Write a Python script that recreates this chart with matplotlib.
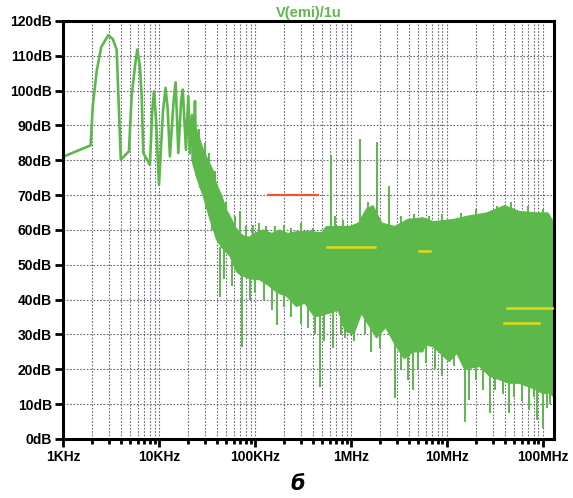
import numpy as np
import matplotlib.pyplot as plt
from matplotlib.ticker import FixedLocator, NullFormatter

# low-frequency harmonics of the trace (Hz, dB)
lf_freq = [1000, 1940, 2040, 2240, 2500, 2960, 3300, 3620, 4000, 4860, 5190, 5620, 5940, 6330, 6600, 6860,
           8040, 8500, 8870, 9300, 10000, 11000, 11700, 12300, 13000, 14200, 14900, 15900, 17000, 17700,
           19100, 20200, 21000, 22000, 23000, 23700, 24500]
lf_db = [81.0, 84.3, 95.5, 105.5, 112.5, 115.9, 114.8, 111.8, 80.2, 82.6, 98.4, 107.0, 111.8, 107.0, 98.4, 82.1,
         78.7, 94.0, 99.8, 92.0, 73.0, 94.0, 100.8, 95.0, 81.1, 97.0, 102.4, 82.1, 97.0, 100.3,
         83.0, 98.4, 82.0, 93.0, 80.0, 97.0, 77.0]

# noise band, upper envelope
top_freq = [22e3, 24e3, 26.7e3, 29e3, 31.3e3, 34e3, 36.7e3, 40e3, 45e3, 50e3, 55e3, 62e3, 70e3, 80e3, 88e3,
            100e3, 121e3, 150e3, 182e3, 220e3, 270e3, 360e3, 495e3, 555e3, 735e3, 977e3, 1.2e6, 1.45e6,
            1.7e6, 2.1e6, 2.86e6, 3.9e6, 5.6e6, 7.2e6, 11.6e6, 16e6, 26e6, 40e6, 57e6, 86e6, 113e6,
            125e6, 131e6]
top_db = [92, 90, 86, 83, 81, 79, 77, 73, 70, 66, 64, 61, 59, 58, 58,
          59, 60, 59, 60, 59, 59.5, 59.6, 59.2, 61, 61, 61, 62, 66,
          67, 62, 61, 63, 63.5, 62.4, 63, 63.9, 64.9, 67, 65.3, 64.9, 64.9,
          63, 55]

# noise band, lower envelope
bot_freq = [22e3, 24.7e3, 29e3, 34e3, 39.8e3, 45e3, 55e3, 64e3, 72e3, 88e3, 112e3, 140e3, 170e3, 213e3,
            270e3, 330e3, 420e3, 580e3, 735e3, 870e3, 1.07e6, 1.29e6, 1.85e6, 2.3e6, 2.9e6, 3.6e6, 4.4e6,
            5.6e6, 6e6, 7.2e6, 10.6e6, 12.7e6, 15.3e6, 21.9e6, 28e6, 35.4e6, 44.6e6, 56e6, 71e6, 87e6,
            100e6, 117e6, 131e6]
bot_db = [80, 75, 69.6, 63, 57.2, 55, 52.4, 48, 47, 46, 45.7, 44, 42, 41,
          38, 39, 35, 36, 37, 31, 30, 36, 29, 32, 27, 23, 25,
          25, 27, 26.5, 22.2, 24.6, 20, 20.8, 18, 17, 16, 16, 15, 14,
          13, 13.2, 12]

# single spikes sticking out of the band (Hz, from dB, to dB)
spike_freq = [26e3, 30e3, 33e3, 38e3, 43e3, 50e3, 62e3, 70e3, 80e3, 95e3, 110e3, 130e3, 160e3, 200e3, 240e3,
              300e3, 400e3, 617e3, 680e3, 830e3, 1.24e6, 1.5e6, 1.88e6, 2.5e6, 3.3e6, 4.5e6, 6.5e6, 9e6,
              14e6, 20e6, 33e6, 47e6, 70e6, 100e6,
              27e3, 31e3, 36e3, 43e3, 48e3, 58e3, 72.6e3, 88e3, 100e3, 125e3, 150e3, 168e3, 200e3, 240e3,
              300e3, 360e3, 420e3, 475e3, 520e3, 650e3, 780e3, 870e3, 1.07e6, 1.4e6, 1.6e6, 2.0e6, 2.9e6,
              3.3e6, 3.9e6, 4.4e6, 5.0e6, 6e6, 7.5e6, 9e6, 12e6, 15.3e6, 17e6, 20e6, 24e6, 28e6, 32e6,
              38e6, 44.6e6, 50e6, 60e6, 71e6, 80e6, 87e6, 100e6, 110e6, 120e6]
spike_lo = [80, 75, 72, 68, 60, 58, 55, 55, 55, 55, 55, 55, 55, 55, 55,
            55, 55, 58, 58, 58, 60, 60, 60, 58, 58, 58, 58, 58,
            60, 60, 60, 62, 60, 60,
            72, 66, 60, 40.9, 46, 44, 26.5, 40, 42, 40, 37, 32.8, 38, 35,
            33, 32, 30, 15, 28, 26, 30, 29, 28, 30, 25, 26, 11.8,
            20, 17, 14, 20, 21.8, 20, 18, 21, 5, 11.2, 17, 14, 7.4, 14,
            13, 7.4, 12, 11, 8.3, 12, 5.5, 3.2, 9, 10]
spike_hi = [89, 85, 82, 77, 71, 68, 64, 65.5, 61, 61.5, 62, 61, 61, 61.5, 60.5,
            62, 60.5, 81.6, 64, 63, 86.1, 68, 85.2, 72.5, 64, 64.5, 64, 64.5,
            65, 66, 67, 68, 67, 66,
            78, 72, 66, 55, 56, 52, 50, 50, 50, 48, 48, 45, 45, 42,
            42, 40, 38, 38, 38, 38, 38, 35, 35, 38, 35, 32, 30,
            28, 26, 27, 27, 28, 27, 25, 25, 24, 22, 22, 22, 20, 20,
            18, 18, 18, 17, 16, 16, 15, 15, 15, 14]

# limit lines (Hz start, Hz end, dB)
red_limit = (138e3, 456e3, 70)
yellow_limits = [(558e3, 1.78e6, 55), (5.1e6, 6.7e6, 54), (41.9e6, 131e6, 37.7), (39.3e6, 90.8e6, 33.2)]

major_freq = [1e3, 1e4, 1e5, 1e6, 1e7, 1e8]
major_labels = ["1KHz", "10KHz", "100KHz", "1MHz", "10MHz", "100MHz"]
db_ticks = list(range(0, 121, 10))
db_labels = [f"{v}dB" for v in db_ticks]

green = "#5cb84a"

plt.rcParams['font.family'] = ['Liberation Sans', 'DejaVu Sans']

fig = plt.figure(figsize=(5.73, 4.98), dpi=100)
ax = fig.add_axes([0.110, 0.1185, 0.857, 0.8394])
ax.set_xscale("log")
ax.set_xlim(1e3, 1.31e8)
ax.set_ylim(0, 120)

# trace
ax.plot(lf_freq, lf_db, color=green, lw=1.9, zorder=2)
poly_x = np.concatenate([top_freq, bot_freq[::-1]])
poly_y = np.concatenate([top_db, bot_db[::-1]])
ax.fill(poly_x, poly_y, color=green, lw=0.8, zorder=2)
ax.vlines(spike_freq, spike_lo, spike_hi, colors=green, lw=1.4, zorder=2)

# limits
ax.plot(red_limit[:2], [red_limit[2]] * 2, color="#ee5533", lw=1.6, zorder=3)
for f0, f1, lvl in yellow_limits:
    ax.plot([f0, f1], [lvl, lvl], color="#dddd1a", lw=1.8, zorder=3)

# ticks
minor = [m * 10 ** d for d in range(3, 9) for m in range(2, 10) if m * 10 ** d < 1.31e8]
ax.xaxis.set_major_locator(FixedLocator(major_freq))
ax.xaxis.set_minor_locator(FixedLocator(minor))
ax.xaxis.set_minor_formatter(NullFormatter())
ax.set_xticklabels(major_labels)
ax.set_yticks(db_ticks)
ax.set_yticklabels(db_labels)
ax.tick_params(axis="both", which="major", direction="out", length=6, width=2, labelsize=10, pad=2)
ax.tick_params(axis="x", which="minor", direction="out", length=3.5, width=2)
for lab in ax.get_xticklabels() + ax.get_yticklabels():
    lab.set_fontweight("bold")

grid_kw = dict(color="#666b72", lw=0.8, linestyle=(0, (1.5, 1.5)), zorder=0)
ax.grid(True, which="both", axis="x", **grid_kw)
ax.grid(True, which="major", axis="y", **grid_kw)
ax.set_axisbelow(True)

for side in ["left", "bottom", "top", "right"]:
    ax.spines[side].set_linewidth(2.2)
    ax.spines[side].set_color("black")

ax.set_title("V(emi)/1u", color=green, fontsize=10.5, fontweight="bold", pad=3)

fig.text(0.52, 0.028, "б", fontsize=15, fontweight="bold", style="italic",
         family=["DejaVu Sans"], ha="center", va="center")

fig.savefig("out.png", dpi=100)
